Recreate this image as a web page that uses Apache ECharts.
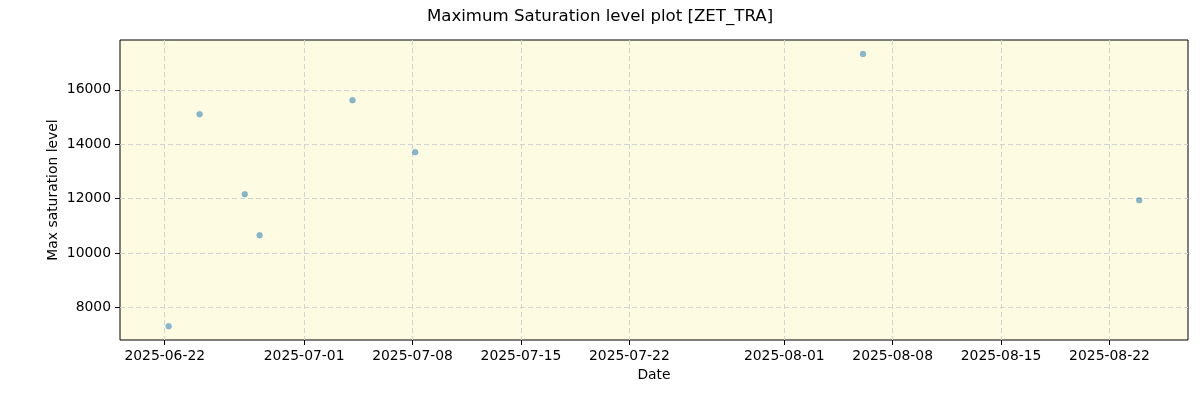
<!DOCTYPE html>
<html>
<head>
<meta charset="utf-8">
<script src="https://cdn.jsdelivr.net/npm/echarts@6/dist/echarts.min.js"></script>
<style>
  html, body { margin: 0; padding: 0; background: #fff; }
  #chart { width: 1200px; height: 400px; }
</style>
</head>
<body>
<div id="chart"></div>
<script>
var dates = ['2025-06-22T06:00', '2025-06-24T06:00', '2025-06-27T04:00', '2025-06-28T03:00',
             '2025-07-04T03:00', '2025-07-08T04:00', '2025-08-06T02:00', '2025-08-23T22:00'];
var maxSat = [7314, 15107, 12166, 10659, 15621, 13710, 17312, 11945];
var xTicks = ['2025-06-22', '2025-07-01', '2025-07-08', '2025-07-15', '2025-07-22',
              '2025-08-01', '2025-08-08', '2025-08-15', '2025-08-22'];
var yTicks = [8000, 10000, 12000, 14000, 16000];

var dom = document.getElementById('chart');
var myChart = echarts.init(dom);

function ts(s) { return new Date(s + (s.length > 10 ? ':00Z' : 'T00:00:00Z')).getTime(); }
function pad(n) { return n < 10 ? '0' + n : '' + n; }

var points = dates.map(function (d, i) { return [ts(d), maxSat[i]]; });
var xTickVals = xTicks.map(ts);

var font = 'DejaVu Sans';

var option = {
  backgroundColor: '#ffffff',
  animation: false,
  title: {
    text: 'Maximum Saturation level plot [ZET_TRA]',
    left: 'center',
    top: 3,
    textStyle: { fontFamily: font, fontSize: 16.6, fontWeight: 'normal', color: '#000' }
  },
  grid: {
    left: 120, right: 12, top: 40, bottom: 60,
    show: true, backgroundColor: '#fdfbe2', borderColor: '#000', borderWidth: 1
  },
  xAxis: {
    type: 'value',
    min: ts('2025-06-19T02:40'),
    max: ts('2025-08-27T01:40'),
    name: 'Date',
    nameLocation: 'middle',
    nameGap: 28,
    nameTextStyle: { fontFamily: font, fontSize: 13.9, color: '#000' },
    axisLine: { show: false },
    axisTick: { show: true, length: 5, customValues: xTickVals, lineStyle: { color: '#000' } },
    axisLabel: {
      customValues: xTickVals,
      fontFamily: font, fontSize: 13.9, color: '#000', margin: 9,
      formatter: function (v) {
        var d = new Date(v);
        return d.getUTCFullYear() + '-' + pad(d.getUTCMonth() + 1) + '-' + pad(d.getUTCDate());
      }
    },
    splitLine: { show: true, lineStyle: { color: '#d3d3d3', type: [5, 3], width: 1 } }
  },
  yAxis: {
    type: 'value',
    min: 6810,
    max: 17830,
    name: 'Max saturation level',
    nameLocation: 'middle',
    nameGap: 60,
    nameMoveOverlap: false,
    nameTextStyle: { fontFamily: font, fontSize: 13.9, color: '#000' },
    axisLine: { show: false },
    axisTick: { show: true, length: 5, customValues: yTicks, lineStyle: { color: '#000' } },
    axisLabel: {
      customValues: yTicks, fontFamily: font, fontSize: 13.9, color: '#000', margin: 9,
      formatter: function (v) { return String(v); }
    },
    splitLine: { show: true, lineStyle: { color: '#d3d3d3', type: [5, 3], width: 1 } }
  },
  series: [{
    type: 'scatter',
    data: points,
    symbolSize: 6,
    itemStyle: { color: 'rgba(31,119,180,0.65)', borderColor: 'rgba(31,119,180,0.3)', borderWidth: 0.5 }
  }]
};

window.onresize = function () { myChart.resize(); };
myChart.setOption(option);
</script>
</body>
</html>
